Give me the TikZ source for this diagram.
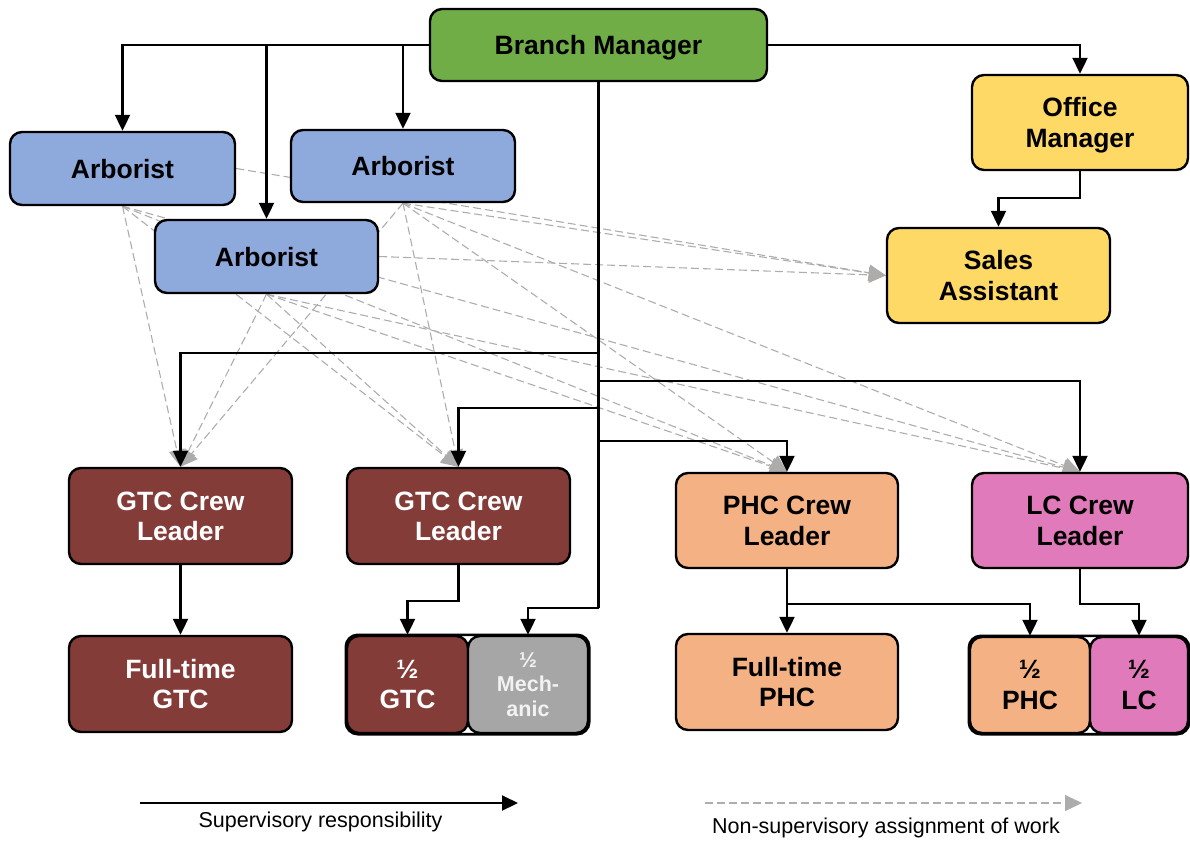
\documentclass[tikz,border=0pt]{standalone}
\usepackage{fontspec}
\setmainfont{Liberation Sans}
\usetikzlibrary{arrows.meta,backgrounds}
\definecolor{bmgreen}{HTML}{70AD47}
\definecolor{arbblue}{HTML}{8EA9DB}
\definecolor{offyellow}{HTML}{FFD966}
\definecolor{gtcred}{HTML}{843C39}
\definecolor{phcorange}{HTML}{F4B183}
\definecolor{lcpink}{HTML}{E07ABA}
\definecolor{mechgray}{HTML}{A6A6A6}
\definecolor{dashgray}{HTML}{ADADAD}
\definecolor{headgray}{HTML}{AEABAB}
\definecolor{mechtext}{HTML}{F2F2F2}
\tikzset{
  box/.style={draw=black, line width=2.4pt, rounded corners=12pt, align=center,
    inner sep=0pt, text depth=0pt, font=\bfseries\fontsize{26.5}{30.5}\selectfont},
  smalltext/.style={font=\bfseries\fontsize{21.5}{24.5}\selectfont},
  sup/.style={draw=black, line width=2.1pt, -{Triangle[width=15pt,length=16pt]}},
  supline/.style={draw=black, line width=2.1pt},
  nsup/.style={draw=dashgray, line width=1.1pt, dash pattern=on 8pt off 4pt,
    -{Triangle[width=16pt,length=17pt,fill=headgray,color=headgray]}},
  legtext/.style={font=\fontsize{21.5}{24}\selectfont}
}
\begin{document}
\begin{tikzpicture}[x=1pt,y=-1pt]
\useasboundingbox (0,0) rectangle (1190,841);
% nodes
\node[box, fill=bmgreen, minimum width=337pt, minimum height=72pt] (bm) at (598.5,45) {Branch Manager};
\node[box, fill=arbblue, minimum width=225pt, minimum height=73pt] (a1) at (122.5,168.5) {Arborist};
\node[box, fill=arbblue, minimum width=224pt, minimum height=72pt] (a2) at (403,166) {Arborist};
\node[box, fill=arbblue, minimum width=223pt, minimum height=73pt] (a3) at (266.5,256.5) {Arborist};
\node[box, fill=offyellow, minimum width=216pt, minimum height=95pt] (om) at (1080,122.5) {Office\\Manager};
\node[box, fill=offyellow, minimum width=223pt, minimum height=95pt] (sa) at (998.5,275.5) {Sales\\Assistant};
\node[box, fill=gtcred, text=white, minimum width=223pt, minimum height=96pt] (g1) at (180.5,516) {GTC Crew\\Leader};
\node[box, fill=gtcred, text=white, minimum width=223pt, minimum height=96pt] (g2) at (458.5,516) {GTC Crew\\Leader};
\node[box, fill=phcorange, minimum width=222pt, minimum height=95pt] (phc) at (787,520.5) {PHC Crew\\Leader};
\node[box, fill=lcpink, minimum width=216pt, minimum height=95pt] (lc) at (1080,520.5) {LC Crew\\Leader};
\node[box, fill=gtcred, text=white, minimum width=223pt, minimum height=96pt] (fg) at (180.5,684) {Full-time\\GTC};
\node[box, fill=gtcred, text=white, minimum width=121pt, minimum height=97pt] (hg) at (407.5,684.5) {½\\GTC};
\node[box, smalltext, fill=mechgray, text=mechtext, minimum width=120pt, minimum height=97pt] (mech) at (528,684.5) {½\\Mech-\\anic};
\node[box, fill=phcorange, minimum width=222pt, minimum height=96pt] (fp) at (787,682) {Full-time\\PHC};
\node[box, fill=phcorange, minimum width=120pt, minimum height=96pt] (hp) at (1030,685) {½\\PHC};
\node[box, fill=lcpink, minimum width=98pt, minimum height=96pt] (hl) at (1139,685) {½\\LC};
% outer group frames
\draw[line width=2.6pt, rounded corners=12pt] (hg.north west) rectangle (mech.south east);
\draw[line width=2.6pt, rounded corners=12pt] (hp.north west) rectangle (hl.south east);
% junction coordinates
\coordinate (j1) at (598.5,353);
\coordinate (j2) at (598.5,381);
\coordinate (j3) at (598.5,408);
\coordinate (j4) at (598.5,441);
\coordinate (j5) at (598.5,608);
% supervisory arrows
\draw[sup] (bm.west) -| (a1.north);
\draw[sup] (a3.north |- bm.west) -- (a3.north);
\draw[sup] (a2.north |- bm.west) -- (a2.north);
\draw[sup] (bm.east) -| (om.north);
\draw[sup] (om.south) -- ++(0,27) -| (sa.north);
\draw[supline] (bm.south) -- (j5);
\draw[sup] (j1) -| (g1.north);
\draw[sup] (j2) -| (lc.north);
\draw[sup] (j3) -| (g2.north);
\draw[sup] (j4) -| (phc.north);
\draw[sup] (j5) -| (mech.north);
\draw[sup] (g1.south) -- (fg.north);
\draw[sup] (g2.south) -- ++(0,36) -| (hg.north);
\draw[supline] (phc.south) -- ++(0,35) coordinate (p1);
\draw[sup] (p1) -- (fp.north);
\draw[sup] (p1) -| (hp.north);
\draw[sup] (lc.south) -- ++(0,35) -| (hl.north);
% non-supervisory assignments (behind)
\begin{pgfonlayer}{background}
\foreach \s in {a1,a2,a3}{
  \draw[nsup] (\s.south) -- (g1.north);
  \draw[nsup] (\s.south) -- (g2.north);
  \draw[nsup] (\s.south) -- (phc.north);
  \draw[nsup] (\s.south) -- (lc.north);
}
\draw[nsup] (a1.east) -- (sa.west);
\draw[nsup] (a2.south) -- (sa.west);
\draw[nsup] (a3.east) -- (sa.west);
\end{pgfonlayer}
% legend
\coordinate (l1) at (140,803);
\coordinate (l2) at (518,803);
\coordinate (l3) at (705,803);
\coordinate (l4) at (1082,803);
\draw[sup] (l1) -- (l2);
\draw[nsup] (l3) -- (l4);
\node[legtext] (lt1) at (320.5,822) {Supervisory responsibility};
\node[legtext] (lt2) at (886,828) {Non-supervisory assignment of work};
\end{tikzpicture}
\end{document}
